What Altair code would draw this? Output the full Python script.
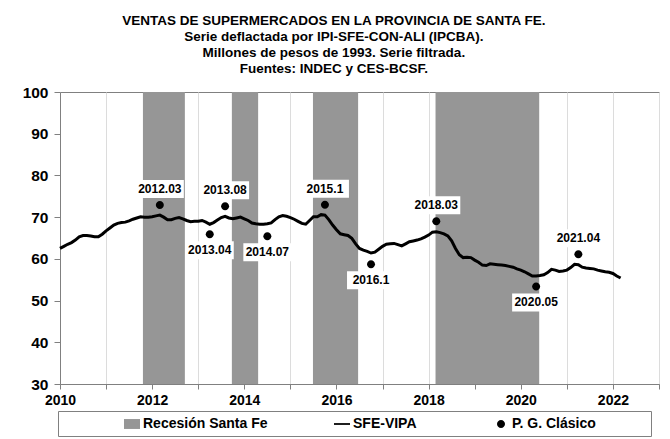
import altair as alt
import pandas as pd

FONT = "Liberation Sans"

# ---- SFE-VIPA (monthly, Jan 2010 - Mar 2022), millones de pesos de 1993 ----
v2010 = [62.5, 63.0, 63.5, 63.9, 64.5, 65.3, 65.6, 65.6, 65.5, 65.3, 65.3, 65.9]
v2011 = [66.7, 67.4, 68.1, 68.5, 68.7, 68.8, 69.1, 69.5, 69.8, 70.1, 70.0, 70.0]
v2012 = [70.1, 70.3, 70.5, 70.0, 69.4, 69.4, 69.7, 69.9, 69.6, 69.2, 68.9, 69.0]
v2013 = [69.0, 69.2, 68.8, 68.3, 68.7, 69.3, 69.9, 70.2, 69.8, 69.6, 69.8, 70.0]
v2014 = [69.6, 69.2, 68.6, 68.4, 68.3, 68.3, 68.4, 68.6, 69.4, 70.1, 70.4, 70.2]
v2015 = [69.9, 69.5, 69.0, 68.5, 68.3, 69.2, 70.1, 70.1, 70.6, 70.5, 69.4, 68.1]
v2016 = [67.0, 66.0, 65.8, 65.6, 64.9, 63.6, 62.5, 62.1, 61.8, 61.4, 61.6, 62.3]
v2017 = [63.0, 63.5, 63.6, 63.7, 63.4, 63.1, 63.6, 64.1, 64.3, 64.5, 64.8, 65.2]
v2018 = [65.7, 66.4, 66.5, 66.3, 66.0, 65.5, 64.3, 62.5, 61.0, 60.3, 60.4, 60.3]
v2019 = [59.7, 59.2, 58.5, 58.4, 58.8, 58.7, 58.6, 58.5, 58.4, 58.2, 58.0, 57.6]
v2020 = [57.3, 56.9, 56.4, 55.9, 55.9, 56.0, 56.2, 56.7, 57.5, 57.3, 57.0, 57.1]
v2021 = [57.3, 57.9, 58.7, 58.6, 58.0, 57.8, 57.7, 57.6, 57.3, 57.1, 56.9, 56.8]
v2022 = [56.5, 55.9, 55.4]
anios = [(2010, v2010), (2011, v2011), (2012, v2012), (2013, v2013), (2014, v2014),
         (2015, v2015), (2016, v2016), (2017, v2017), (2018, v2018), (2019, v2019),
         (2020, v2020), (2021, v2021), (2022, v2022)]

# ---- Recesiones Santa Fe (inicio / fin, año decimal) ----
rec_inicio = [2011.80, 2013.73, 2015.49, 2018.15]
rec_fin = [2012.71, 2014.30, 2016.47, 2020.40]

# ---- Puntos de giro clásicos ----
giros_etiqueta = ["2012.03", "2013.04", "2013.08", "2014.07", "2015.1",
                  "2016.1", "2018.03", "2020.05", "2021.04"]
giros_valor = [72.9, 65.9, 72.6, 65.4, 73.0, 58.7, 69.0, 53.4, 61.1]
giros_tipo = ["pico", "valle", "pico", "valle", "pico", "valle", "pico", "valle", "pico"]

leyenda = ["Recesión Santa Fe", "SFE-VIPA", "P. G. Clásico"]

titulo = ["VENTAS DE SUPERMERCADOS EN LA PROVINCIA DE SANTA FE.",
          "Serie deflactada por IPI-SFE-CON-ALI (IPCBA).",
          "Millones de pesos de 1993. Serie filtrada.",
          "Fuentes: INDEC y CES-BCSF."]

# ---- build tables ----
fechas, valores = [], []
for anio, vals in anios:
    for i, v in enumerate(vals):
        fechas.append(anio + i / 12)
        valores.append(v)
serie_df = pd.DataFrame({"fecha": fechas, "valor": valores})
rec_df = pd.DataFrame({"inicio": rec_inicio, "fin": rec_fin})


def fecha_de(et):
    a, m = et.split(".")
    mes = int(m) if len(m) == 2 else int(m) * 10
    return int(a) + (mes - 1) / 12


giros_df = pd.DataFrame({
    "fecha": [fecha_de(e) for e in giros_etiqueta],
    "valor": giros_valor,
    "etiqueta": giros_etiqueta,
    "tipo": giros_tipo,
    "serie": "P. G. Clásico",
})

GRAY = "#969696"
CIRCLE = "M0.5,0A0.5,0.5,0,1,1,-0.5,0A0.5,0.5,0,1,1,0.5,0Z"
RECT = "M-1,-0.62H1V0.62H-1Z"
LINEA = "M-1,-0.11H1V0.11H-1Z"
BOX = "M-1,-0.375H1V0.375H-1Z"

x_scale = alt.Scale(domain=[2010, 2023], nice=False, zero=False)
y_scale = alt.Scale(domain=[30, 100], nice=False, zero=False)
x_axis = alt.Axis(values=list(range(2010, 2024)), format="d",
                  labelExpr="datum.value % 2 == 0 ? datum.label : ''",
                  title=None, grid=True, gridColor="#dcdcdc", tickSize=5,
                  labelPadding=4, labelFontSize=14, labelFlush=False)
y_axis = alt.Axis(values=list(range(30, 101, 10)), title=None, grid=False,
                  tickSize=6, labelPadding=6, labelFontSize=15.5)

sp1 = "\\u2800"
sp5 = "\\u2800" * 5
leg = alt.Legend(title=None, orient="none", legendX=-2, legendY=319,
                 direction="horizontal", symbolSize=256, symbolStrokeWidth=0,
                 labelFont=FONT, labelFontSize=14, labelFontWeight="bold",
                 labelColor="black", padding=5, strokeColor="#808080",
                 fillColor="white", symbolOffset=61, columnPadding=5,
                 labelOffset=3, labelLimit=400,
                 labelExpr="datum.label == 'SFE-VIPA' ? datum.label + '" + sp1
                 + "' : (datum.label == 'Recesión Santa Fe' ? datum.label : datum.label + '"
                 + sp5 + "')")

bands = alt.Chart(rec_df).mark_rect(color=GRAY).encode(
    x=alt.X("inicio:Q", scale=x_scale, axis=x_axis),
    x2="fin:Q",
)

line = alt.Chart(serie_df).mark_line(color="black", strokeWidth=3).encode(
    x=alt.X("fecha:Q", scale=x_scale, axis=x_axis),
    y=alt.Y("valor:Q", scale=y_scale, axis=y_axis),
)

pos = dict(x=alt.X("fecha:Q", scale=x_scale, axis=x_axis),
           y=alt.Y("valor:Q", scale=y_scale, axis=y_axis))

box_up = alt.Chart(giros_df).transform_filter(alt.datum.tipo == "pico").mark_point(
    shape=BOX, filled=True, color="white", opacity=1, size=2304, strokeWidth=0,
    yOffset=-16).encode(**pos)
box_dn = alt.Chart(giros_df).transform_filter(alt.datum.tipo == "valle").mark_point(
    shape=BOX, filled=True, color="white", opacity=1, size=2304, strokeWidth=0,
    yOffset=16).encode(**pos)

points = alt.Chart(giros_df).mark_point(filled=True, opacity=1, size=256, strokeWidth=0).encode(
    **pos,
    color=alt.Color("serie:N", scale=alt.Scale(domain=leyenda, range=[GRAY, "black", "black"]), legend=leg),
    shape=alt.Shape("serie:N", scale=alt.Scale(domain=leyenda, range=[RECT, LINEA, CIRCLE]), legend=leg),
)

txt_style = dict(font=FONT, fontSize=12, fontWeight="bold", color="black", baseline="middle")
text_up = alt.Chart(giros_df).transform_filter(alt.datum.tipo == "pico").mark_text(
    dy=-16, **txt_style).encode(**pos, text="etiqueta:N")
text_dn = alt.Chart(giros_df).transform_filter(alt.datum.tipo == "valle").mark_text(
    dy=16, **txt_style).encode(**pos, text="etiqueta:N")

chart = alt.layer(bands, line, box_up, box_dn, points, text_up, text_dn).properties(
    width=599, height=292,
    autosize=alt.AutoSizeParams(type="none"),
    padding={"left": 52, "top": 84, "right": 3, "bottom": 55},
    background="white",
    title=alt.TitleParams(text=titulo, anchor="middle", frame="bounds", font=FONT,
                          fontSize=13.5, fontWeight="bold", color="black",
                          lineHeight=16, offset=10, dx=-7),
).configure_view(stroke="#808080", strokeWidth=1).configure_axis(
    labelFont=FONT, labelFontWeight="bold", labelColor="black",
    domainColor="#808080", tickColor="#808080",
)

chart.save("out.html", embed_options={"renderer": "svg", "actions": False})
